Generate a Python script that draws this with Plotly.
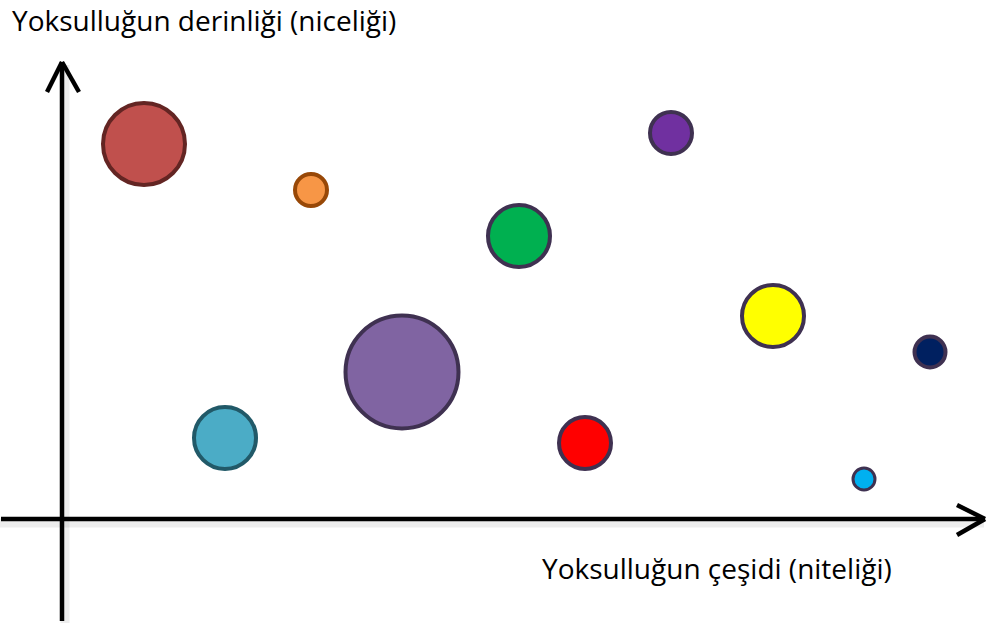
import plotly.graph_objects as go

# bubble data: position measured from the axis crossing, outer diameter in px
bubble_x = [82, 249, 163, 340, 457, 609, 711, 523, 868, 802]
bubble_y = [375, 329, 81, 147, 283, 386, 203, 76, 167, 40]
bubble_d = [86, 36, 66, 117, 66, 46, 66, 56, 35, 25]
fill_colors = ['#C0504D', '#F79646', '#4BACC6', '#8064A2', '#00B050',
               '#7030A0', '#FFFF00', '#FF0000', '#002060', '#00B0F0']
edge_colors = ['#632523', '#984807', '#215968', '#3F3151', '#3F3151',
               '#3F3151', '#3F3151', '#3F3151', '#3F3151', '#3F3151']
edge_widths = [4, 4, 4, 4, 4, 4, 4, 4, 4, 3]

y_label = "Yoksulluğun derinliği (niceliği)"
x_label = "Yoksulluğun çeşidi (niteliği)"

W, H = 987, 630
X0, Y0 = 62, 519  # where the two arrows cross, in px

fig = go.Figure()

fig.add_trace(go.Scatter(
    x=bubble_x,
    y=bubble_y,
    mode='markers',
    marker=dict(
        size=[d - w for d, w in zip(bubble_d, edge_widths)],
        sizemode='diameter',
        color=fill_colors,
        opacity=1,
        line=dict(color=edge_colors, width=edge_widths)
    ),
    hoverinfo='skip',
    showlegend=False
))


def _line(fig, x0, y0, x1, y1, color='black', width=4.5):
    fig.add_shape(type='line', x0=x0, y0=y0, x1=x1, y1=y1,
                  line=dict(color=color, width=width), layer='below')


shadow = 'rgba(0,0,0,0.07)'
# soft shadows under the arrows
_line(fig, -62, -4, 922, -4, shadow, 9)
_line(fig, 3, -104, 3, 454, shadow, 9)

# horizontal arrow
_line(fig, -61, 0, 923, 0)
_line(fig, 895, 14, 923, 0)
_line(fig, 895, -16, 923, 0)

# vertical arrow
_line(fig, 0, -102, 0, 457)
_line(fig, -15, 427, 0, 457)
_line(fig, 17, 427, 0, 457)

fig.add_annotation(
    x=-52, y=499, text=y_label, showarrow=False,
    xanchor='left', yanchor='middle',
    font=dict(family='Open Sans', size=28, color='black')
)
fig.add_annotation(
    x=478, y=-49, text=x_label, showarrow=False,
    xanchor='left', yanchor='middle',
    font=dict(family='Open Sans', size=28, color='black')
)

fig.update_xaxes(range=[-X0, W - X0], visible=False, fixedrange=True)
fig.update_yaxes(range=[Y0 - H, Y0], visible=False, fixedrange=True)

fig.update_layout(
    width=W,
    height=H,
    margin=dict(l=0, r=0, t=0, b=0),
    paper_bgcolor='white',
    plot_bgcolor='white',
    showlegend=False
)

# drop the browser's default 8px body margin so the figure fills the window
fig.write_html(
    "out.html",
    config={'displayModeBar': False},
    post_script="document.body.style.margin='0';document.body.style.overflow='hidden';"
)
